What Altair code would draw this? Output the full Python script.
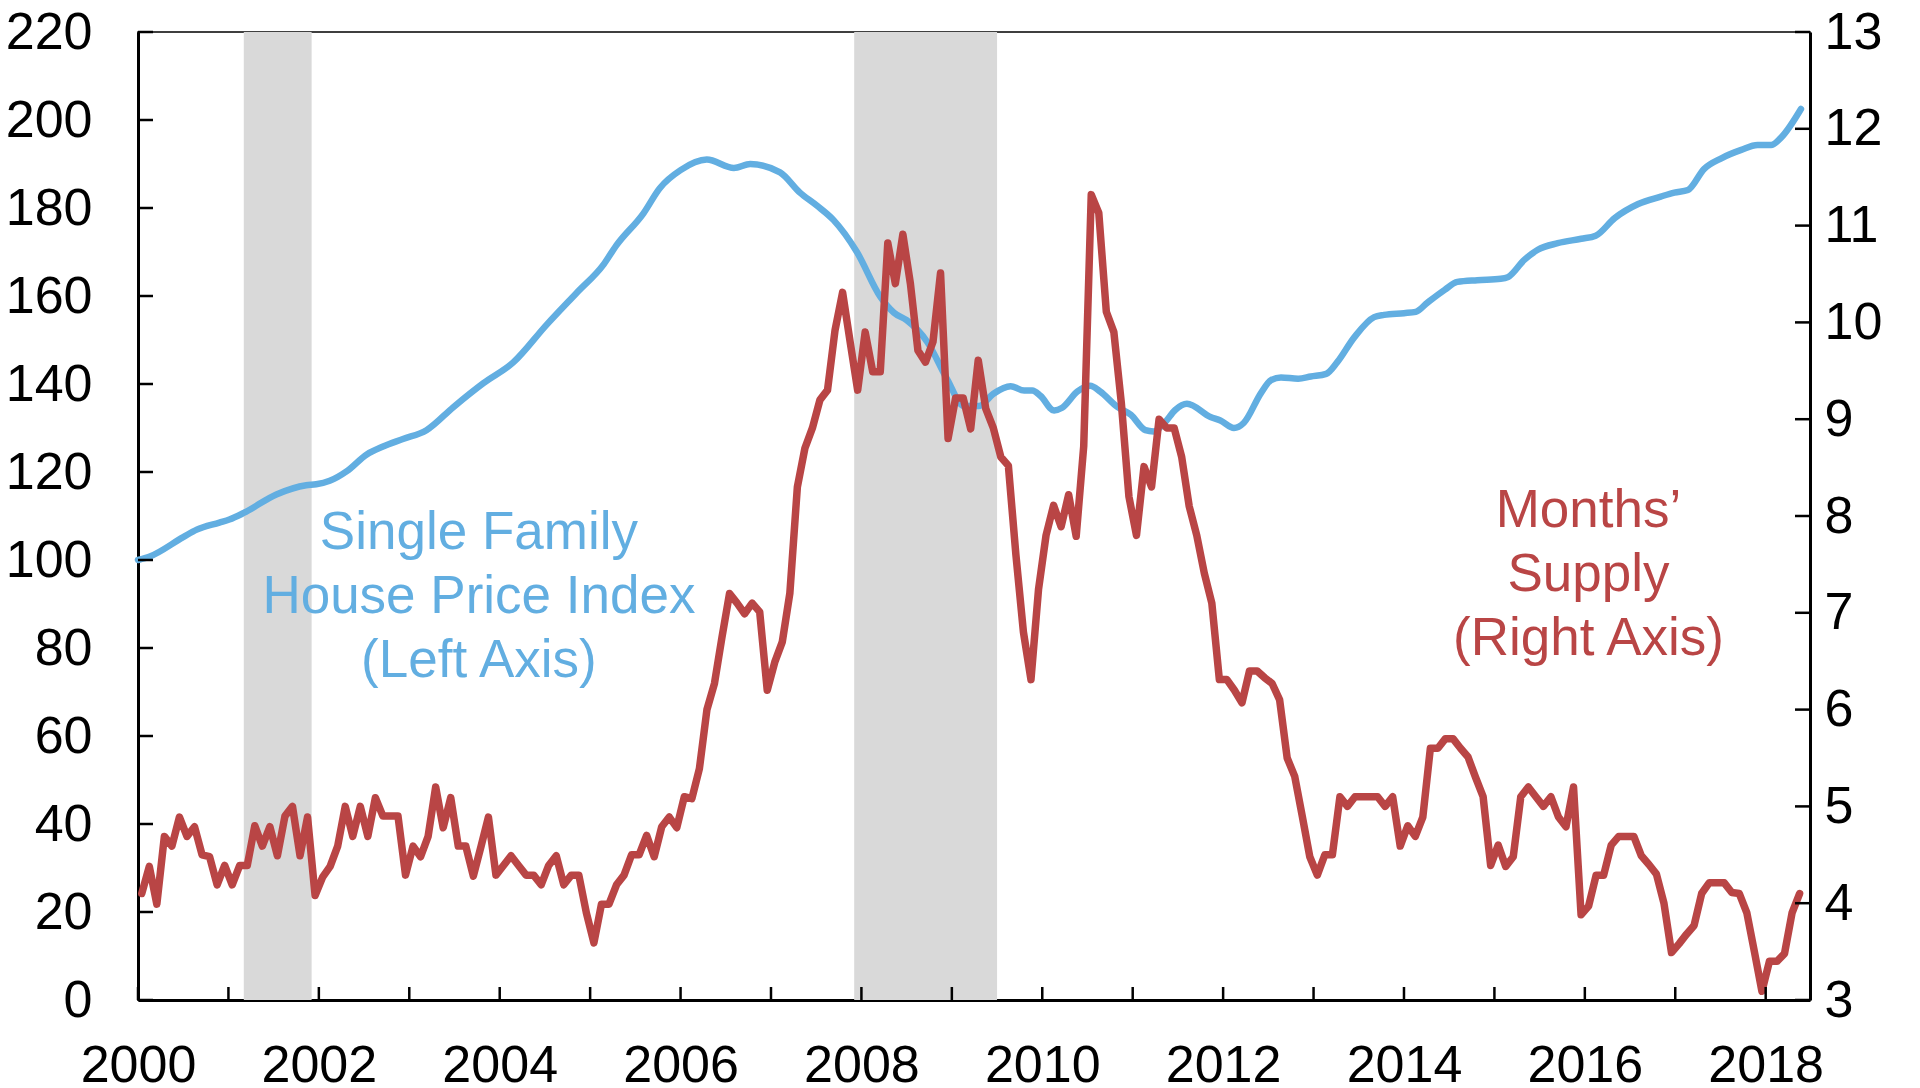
import altair as alt
import pandas as pd

FONT = "Liberation Sans"
BLUE = "#62AEE1"
RED = "#B94545"
GRAY = "#D9D9D9"

# Months' supply (right axis), monthly from Jan 2000
supply_2000 = [4.10, 4.38, 3.99, 4.69, 4.59, 4.89, 4.69, 4.79, 4.50, 4.48, 4.19, 4.39]
supply_2001 = [4.19, 4.39, 4.39, 4.80, 4.59, 4.79, 4.49, 4.90, 5.00, 4.49, 4.89, 4.08]
supply_2002 = [4.27, 4.38, 4.59, 5.00, 4.69, 5.00, 4.69, 5.09, 4.90, 4.90, 4.90, 4.29]
supply_2003 = [4.59, 4.48, 4.69, 5.20, 4.78, 5.09, 4.59, 4.59, 4.28, 4.58, 4.89, 4.29]
supply_2004 = [4.39, 4.49, 4.39, 4.29, 4.29, 4.19, 4.39, 4.49, 4.19, 4.29, 4.29, 3.90]
supply_2005 = [3.59, 3.99, 3.99, 4.19, 4.29, 4.50, 4.50, 4.70, 4.48, 4.79, 4.89, 4.78]
supply_2006 = [5.10, 5.08, 5.39, 6.00, 6.27, 6.75, 7.20, 7.10, 6.99, 7.10, 7.01, 6.20]
supply_2007 = [6.49, 6.70, 7.20, 8.30, 8.70, 8.91, 9.20, 9.30, 9.92, 10.31, 9.80, 9.30]
supply_2008 = [9.90, 9.49, 9.49, 10.82, 10.40, 10.91, 10.40, 9.71, 9.59, 9.80, 10.51, 8.80]
supply_2009 = [9.22, 9.22, 8.90, 9.61, 9.11, 8.91, 8.61, 8.52, 7.60, 6.80, 6.31, 7.24]
supply_2010 = [7.80, 8.11, 7.89, 8.22, 7.79, 8.72, 11.32, 11.13, 10.11, 9.90, 9.16, 8.20]
supply_2011 = [7.80, 8.51, 8.30, 9.00, 8.91, 8.91, 8.61, 8.10, 7.80, 7.41, 7.10, 6.31]
supply_2012 = [6.31, 6.20, 6.07, 6.40, 6.40, 6.33, 6.27, 6.10, 5.50, 5.31, 4.90, 4.48]
supply_2013 = [4.29, 4.50, 4.50, 5.10, 5.00, 5.10, 5.10, 5.10, 5.10, 5.00, 5.10, 4.59]
supply_2014 = [4.80, 4.69, 4.89, 5.60, 5.60, 5.70, 5.70, 5.60, 5.51, 5.30, 5.10, 4.39]
supply_2015 = [4.60, 4.38, 4.48, 5.10, 5.20, 5.10, 5.00, 5.10, 4.89, 4.79, 5.20, 3.88]
supply_2016 = [3.97, 4.29, 4.29, 4.60, 4.69, 4.69, 4.69, 4.49, 4.40, 4.30, 4.00, 3.49]
supply_2017 = [3.58, 3.68, 3.77, 4.10, 4.21, 4.21, 4.21, 4.11, 4.10, 3.90, 3.50, 3.09]
supply_2018 = [3.40, 3.40, 3.48, 3.90, 4.10]

# Single family house price index (left axis)
hpi_years = [2000.00, 2000.13, 2000.50, 2000.65, 2000.90, 2001.01, 2001.17, 2001.53, 2001.86, 2001.97,
             2002.12, 2002.31, 2002.53, 2002.71, 2002.93, 2003.19, 2003.49, 2003.82, 2004.15, 2004.52,
             2004.85, 2005.15, 2005.29, 2005.59, 2005.77, 2006.00, 2006.29, 2006.59, 2006.77, 2007.10,
             2007.32, 2007.51, 2007.69, 2007.95, 2008.21, 2008.36, 2008.50, 2008.73, 2008.95, 2009.13,
             2009.30, 2009.46, 2009.65, 2009.80, 2009.89, 2009.98, 2010.13, 2010.22, 2010.39, 2010.53,
             2010.64, 2010.83, 2010.98, 2011.14, 2011.23, 2011.35, 2011.47, 2011.60, 2011.86, 2011.97,
             2012.12, 2012.23, 2012.42, 2012.53, 2012.64, 2012.83, 2012.97, 2013.14, 2013.26, 2013.45,
             2013.67, 2013.78, 2014.00, 2014.13, 2014.26, 2014.45, 2014.59, 2014.81, 2015.07, 2015.15,
             2015.33, 2015.48, 2015.70, 2015.96, 2016.12, 2016.33, 2016.59, 2016.84, 2016.99, 2017.14,
             2017.32, 2017.51, 2017.73, 2017.91, 2018.06, 2018.17, 2018.39]
hpi_values = [100.0, 100.8, 105.2, 106.9, 108.5, 109.2, 110.7, 114.9, 117.0, 117.2,
              118.0, 120.2, 124.0, 125.8, 127.5, 129.5, 134.8, 140.2, 144.9, 153.5,
              160.7, 167.2, 171.5, 178.8, 184.5, 188.6, 191.0, 189.1, 190.0, 188.1,
              183.5, 180.5, 177.3, 170.0, 159.8, 156.2, 154.5, 149.5, 141.0, 135.0,
              135.0, 137.8, 139.5, 138.5, 138.5, 137.3, 134.0, 134.6, 138.3, 139.6,
              138.3, 134.8, 133.0, 129.5, 129.2, 131.1, 134.1, 135.5, 132.5, 131.7,
              130.0, 131.2, 138.0, 140.9, 141.5, 141.2, 141.7, 142.3, 144.9, 150.6,
              155.2, 155.7, 156.1, 156.4, 158.5, 161.4, 163.2, 163.6, 163.9, 164.3,
              168.2, 170.5, 172.0, 173.0, 173.7, 177.7, 180.9, 182.6, 183.5, 184.1,
              188.9, 191.3, 193.2, 194.3, 194.3, 196.0, 202.5]

# Recessions
rec_start = [2001.17, 2007.92]
rec_end = [2001.92, 2009.50]

# Axes
left_ticks = list(range(0, 221, 20))
right_ticks = list(range(3, 14))
year_ticks = list(range(2000, 2019))
year_labels = list(range(2000, 2019, 2))

# Annotations (position of the first line)
label_text = ["Single Family\nHouse Price Index\n(Left Axis)", "Months\u2019\nSupply\n(Right Axis)"]
label_x = [2003.77, 2016.04]
label_y = [106.1, 111.1]

supply_values = (supply_2000 + supply_2001 + supply_2002 + supply_2003 + supply_2004 + supply_2005 +
                 supply_2006 + supply_2007 + supply_2008 + supply_2009 + supply_2010 + supply_2011 +
                 supply_2012 + supply_2013 + supply_2014 + supply_2015 + supply_2016 + supply_2017 +
                 supply_2018)
months = pd.date_range("2000-01-01", periods=len(supply_values), freq="MS")
supply_df = pd.DataFrame({"t": months.year + (months.month - 0.5) / 12.0, "v": supply_values})
hpi_df = pd.DataFrame({"t": hpi_years, "v": hpi_values})
rec_df = pd.DataFrame({"t": rec_start, "e": rec_end})
lt_df = pd.DataFrame({"v": left_ticks})
rt_df = pd.DataFrame({"v": right_ticks})
yt_df = pd.DataFrame({"t": year_ticks})
lab_df = pd.DataFrame({"t": label_x, "v": label_y, "label": label_text, "c": [BLUE, RED]})

W, H = 1672, 968
xs = alt.Scale(domain=[2000, 2018.49], nice=False, zero=False)
yl = alt.Scale(domain=[0, 220], nice=False, zero=False)
yr = alt.Scale(domain=[3, 13], nice=False, zero=False)

axis_common = dict(title=None, grid=False, ticks=False, tickSize=0, labelFont=FONT,
                   labelFontSize=52, labelColor="black", domainColor="black", domainWidth=3,
                   labelOverlap=False, labelFlush=False)

x_axis = alt.Axis(values=year_labels, format="d", labelPadding=40, orient="bottom", **axis_common)
X = alt.X("t:Q", scale=xs, axis=x_axis)

rec = alt.Chart(rec_df).mark_rect(color=GRAY).encode(
    x=X, x2="e:Q",
    y=alt.value(0), y2=alt.value(H))

blue = alt.Chart(hpi_df).mark_line(color=BLUE, strokeWidth=6.5, strokeJoin="round",
                                   strokeCap="round", interpolate="monotone").encode(
    x=X,
    y=alt.Y("v:Q", scale=yl, axis=alt.Axis(orient="left", values=left_ticks, labelPadding=46,
                                           **axis_common)))

red = alt.Chart(supply_df).mark_line(color=RED, strokeWidth=7.5, strokeJoin="round",
                                     strokeCap="round").encode(
    x=X,
    y=alt.Y("v:Q", scale=yr, axis=alt.Axis(orient="right", values=right_ticks, labelPadding=14,
                                           **axis_common)))

lticks = alt.Chart(lt_df).mark_rule(color="black", strokeWidth=2.5).encode(
    y=alt.Y("v:Q", scale=yl, axis=None), x=alt.value(0), x2=alt.value(15))
rticks = alt.Chart(rt_df).mark_rule(color="black", strokeWidth=2.5).encode(
    y=alt.Y("v:Q", scale=yr, axis=None), x=alt.value(W - 15), x2=alt.value(W))
bticks = alt.Chart(yt_df).mark_rule(color="black", strokeWidth=2.5).encode(
    x=X, y=alt.value(H - 13), y2=alt.value(H))

labels = alt.Chart(lab_df).mark_text(font=FONT, fontSize=53, lineHeight=64, align="center",
                                     baseline="middle", lineBreak="\n").encode(
    x=X,
    y=alt.Y("v:Q", scale=yl, axis=None),
    text="label:N",
    color=alt.Color("c:N", scale=None))

chart = alt.layer(rec, blue, red, lticks, rticks, bticks, labels).resolve_scale(
    y="independent").properties(
    width=W, height=H, background="white",
    autosize=alt.AutoSizeParams(type="none"),
    padding={"left": 130, "top": 24, "right": 100, "bottom": 92}
).configure_view(stroke="black", strokeWidth=1.5)

chart.save("out.html", embed_options={"renderer": "svg", "actions": False})
